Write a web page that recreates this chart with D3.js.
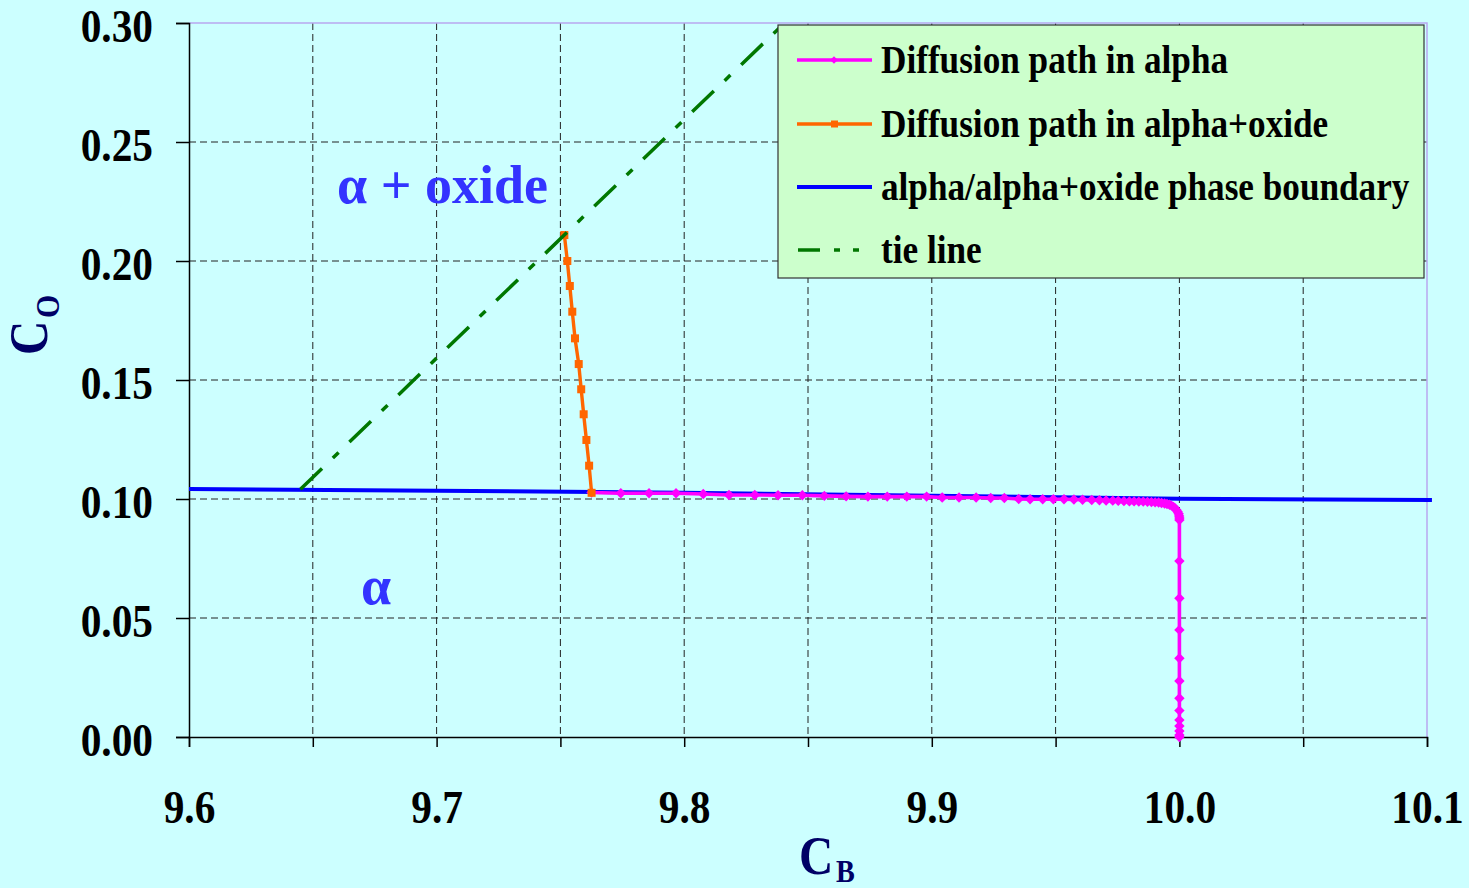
<!DOCTYPE html>
<html>
<head>
<meta charset="utf-8">
<script src="https://cdn.jsdelivr.net/npm/d3@7"></script>
<style>
  html, body { margin: 0; padding: 0; background: #ccffff; }
  svg { display: block; }
  text { font-family: "Liberation Serif", "Times New Roman", serif; font-weight: bold; }
</style>
</head>
<body>
<svg id="chart" width="1469" height="888"></svg>
<script>
// Diffusion path through the alpha region (C_B, C_O)
const alphaPathB = [9.7626, 9.7744, 9.7858, 9.7967, 9.8077, 9.8181, 9.8285, 9.8379, 9.8477, 9.8566,
  9.8654, 9.8742, 9.8820, 9.8899, 9.8979, 9.9042, 9.9110, 9.9179, 9.9238, 9.9293,
  9.9351, 9.9397, 9.9448, 9.9491, 9.9534, 9.9574, 9.9609, 9.9646, 9.9677, 9.9704,
  9.9731, 9.9753, 9.9776, 9.9798, 9.9817, 9.9836, 9.9854, 9.9871, 9.9887, 9.9902,
  9.9916, 9.9928, 9.9940, 9.9950, 9.9960, 9.9968, 9.9976, 9.9982, 9.9988, 9.9993,
  9.9997, 9.9999, 10.0000, 10.0000, 10.0000, 10.0000, 10.0000, 10.0000, 10.0000, 10.0000,
  10.0000, 10.0000, 10.0000, 10.0000, 10.0000, 10.0000];
const alphaPathO = [0.1027, 0.1024, 0.1024, 0.1024, 0.1021, 0.1017, 0.1017, 0.1016, 0.1016, 0.1013,
  0.1011, 0.1010, 0.1010, 0.1010, 0.1010, 0.1006, 0.1006, 0.1006, 0.1004, 0.1004,
  0.1000, 0.0999, 0.0999, 0.0999, 0.0999, 0.0998, 0.0997, 0.0996, 0.0995, 0.0994,
  0.0993, 0.0992, 0.0991, 0.0990, 0.0990, 0.0989, 0.0989, 0.0988, 0.0987, 0.0986,
  0.0985, 0.0983, 0.0981, 0.0979, 0.0976, 0.0972, 0.0967, 0.0961, 0.0954, 0.0946,
  0.0938, 0.0929, 0.0920, 0.0912, 0.0739, 0.0583, 0.0450, 0.0331, 0.0235, 0.0163,
  0.0111, 0.0071, 0.0046, 0.0025, 0.0008, 0.0000];

// Diffusion path through the alpha+oxide region
const oxidePathB = [9.7516, 9.7528, 9.7538, 9.7548, 9.7559, 9.7574, 9.7584, 9.7594, 9.7605, 9.7616, 9.7626];
const oxidePathO = [0.2109, 0.2000, 0.1895, 0.1787, 0.1675, 0.1567, 0.1461, 0.1356, 0.1248, 0.1140, 0.1026];

// alpha / alpha+oxide phase boundary
const boundaryB = [9.6, 9.7, 9.8, 9.9, 10.0, 10.102];
const boundaryO = [0.1042, 0.1035, 0.1026, 0.1014, 0.1001, 0.0996];

// Tie line
const tieB = [9.645, 9.8405];
const tieO = [0.1041, 0.300];

// Axis ticks
const xTicks = [9.6, 9.65, 9.7, 9.75, 9.8, 9.85, 9.9, 9.95, 10.0, 10.05, 10.1];
const xTickLabels = ["9.6", "", "9.7", "", "9.8", "", "9.9", "", "10.0", "", "10.1"];
const yTicks = [0.00, 0.05, 0.10, 0.15, 0.20, 0.25, 0.30];
const yTickLabels = ["0.00", "0.05", "0.10", "0.15", "0.20", "0.25", "0.30"];

const legendLabels = ["Diffusion path in alpha", "Diffusion path in alpha+oxide",
  "alpha/alpha+oxide phase boundary", "tie line"];

(function draw() {
  const SX = 0.88; // horizontal squeeze of the serif lettering
  const svg = d3.select("#chart");
  const W = 1469, H = 888;
  const pL = 189, pR = 1427, pT = 23, pB = 737;

  const x = d3.scaleLinear().domain([9.6, 10.1]).range([pL, pR]);
  const y = d3.scaleLinear().domain([0, 0.30]).range([pB, pT]);

  svg.append("rect").attr("width", W).attr("height", H).attr("fill", "#ccffff");

  // grid
  const grid = svg.append("g").attr("stroke", "#222").attr("stroke-width", 1).attr("stroke-dasharray", "7,4");
  grid.selectAll("line.h").data(yTicks.filter(v => v > 0 && v < 0.3)).join("line").attr("class", "h")
    .attr("x1", pL).attr("x2", pR).attr("y1", d => y(d)).attr("y2", d => y(d));
  grid.selectAll("line.v").data(xTicks.filter(v => v > 9.6 && v < 10.1)).join("line").attr("class", "v")
    .attr("y1", pT).attr("y2", pB).attr("x1", d => x(d)).attr("x2", d => x(d));

  // top and right frame
  svg.append("path")
    .attr("d", `M${pL},${pT}H${pR}V${pB}`)
    .attr("fill", "none").attr("stroke", "#b8a8f0").attr("stroke-width", 1.5);

  // axes
  const yAxis = d3.axisLeft(y).tickValues(yTicks).tickSize(13).tickPadding(23)
    .tickFormat((d, i) => yTickLabels[i]);
  const gy = svg.append("g").attr("transform", `translate(${pL},0)`).call(yAxis);
  gy.select(".domain").attr("stroke", "#000").attr("stroke-width", 1.5);
  gy.selectAll(".tick line").attr("stroke", "#000").attr("stroke-width", 1.5);
  gy.selectAll(".tick text")
    .attr("font-size", 47).attr("font-family", "Liberation Serif, Times New Roman, serif")
    .attr("font-weight", "bold").attr("fill", "#000")
    .attr("x", -36 / SX).attr("dy", "0.40em")
    .attr("transform", `scale(${SX},1)`);

  const xAxis = d3.axisBottom(x).tickValues(xTicks).tickSize(10).tickPadding(43)
    .tickFormat((d, i) => xTickLabels[i]);
  const gx = svg.append("g").attr("transform", `translate(0,${pB})`).call(xAxis);
  gx.select(".domain").attr("stroke", "#000").attr("stroke-width", 1.5);
  gx.selectAll(".tick line").attr("stroke", "#000").attr("stroke-width", 1.5);
  gx.selectAll(".tick text")
    .attr("font-size", 47).attr("font-family", "Liberation Serif, Times New Roman, serif")
    .attr("font-weight", "bold").attr("fill", "#000")
    .attr("transform", `scale(${SX},1)`);

  // series
  const line = d3.line().x(d => x(d[0])).y(d => y(d[1]));
  const zip = (a, b) => a.map((v, i) => [v, b[i]]);

  const boundary = zip(boundaryB, boundaryO);
  const tie = zip(tieB, tieO);
  const oxidePath = zip(oxidePathB, oxidePathO);
  const alphaPath = zip(alphaPathB, alphaPathO);

  svg.append("path").datum(boundary).attr("d", line)
    .attr("fill", "none").attr("stroke", "#0000ff").attr("stroke-width", 4);

  const diamond = r => `M0,${-r}L${r},0L0,${r}L${-r},0Z`;

  svg.append("path").datum(alphaPath).attr("d", line)
    .attr("fill", "none").attr("stroke", "#ff00ff").attr("stroke-width", 3.6).attr("stroke-linejoin", "round");
  svg.append("g").selectAll("path").data(alphaPath).join("path")
    .attr("transform", d => `translate(${x(d[0])},${y(d[1])})`)
    .attr("d", diamond(5.2)).attr("fill", "#ff00ff");

  svg.append("path").datum(oxidePath).attr("d", line)
    .attr("fill", "none").attr("stroke", "#ff6600").attr("stroke-width", 3.4);
  svg.append("g").selectAll("rect").data(oxidePath).join("rect")
    .attr("x", d => x(d[0]) - 4).attr("y", d => y(d[1]) - 4)
    .attr("width", 8).attr("height", 8).attr("fill", "#ff6600");

  svg.append("path").datum(tie).attr("d", line)
    .attr("fill", "none").attr("stroke", "#007700").attr("stroke-width", 3.5)
    .attr("stroke-dasharray", "30,15,8,15");

  // region labels
  svg.append("text").attr("x", 337).attr("y", 203).attr("font-size", 54).attr("fill", "#3333ff")
    .text("α + oxide");
  svg.append("text").attr("x", 361).attr("y", 604).attr("font-size", 54).attr("fill", "#3333ff")
    .text("α");

  // axis titles
  const tB = svg.append("g").attr("transform", `translate(799,874) scale(${SX},1)`)
    .append("text").attr("font-size", 54).attr("fill", "#000066");
  tB.append("tspan").text("C");
  tB.append("tspan").attr("font-size", 32).attr("dx", 3).attr("dy", 8).text("B");

  const tO = svg.append("g").attr("transform", `translate(47,355) rotate(-90) scale(${SX},1)`)
    .append("text").attr("font-size", 54).attr("fill", "#000066");
  tO.append("tspan").text("C");
  tO.append("tspan").attr("font-size", 34).attr("dx", 3).attr("dy", 12).text("O");

  // legend
  const lg = svg.append("g");
  lg.append("rect").attr("x", 778).attr("y", 25).attr("width", 646).attr("height", 253)
    .attr("fill", "#ccffcc").attr("stroke", "#333").attr("stroke-width", 1.2);
  const rows = [60, 124, 187, 250];
  const colors = ["#ff00ff", "#ff6600", "#0000ff", "#007700"];
  rows.forEach((cy, i) => {
    const ln = lg.append("line").attr("x1", 797).attr("x2", 872).attr("y1", cy).attr("y2", cy)
      .attr("stroke", colors[i]).attr("stroke-width", i === 2 ? 4 : 3.4);
    if (i === 3) ln.attr("x1", 798).attr("stroke-dasharray", "22,14,6,13,6,40");
    if (i === 0) lg.append("path").attr("transform", `translate(834,${cy})`).attr("d", diamond(3.8)).attr("fill", colors[i]);
    if (i === 1) lg.append("rect").attr("x", 831).attr("y", cy - 3.5).attr("width", 7).attr("height", 7).attr("fill", colors[i]);
    lg.append("g").attr("transform", `translate(881,${cy + 13}) scale(${SX},1)`)
      .append("text").attr("font-size", 40).attr("fill", "#000").text(legendLabels[i]);
  });
})();
</script>
</body>
</html>
